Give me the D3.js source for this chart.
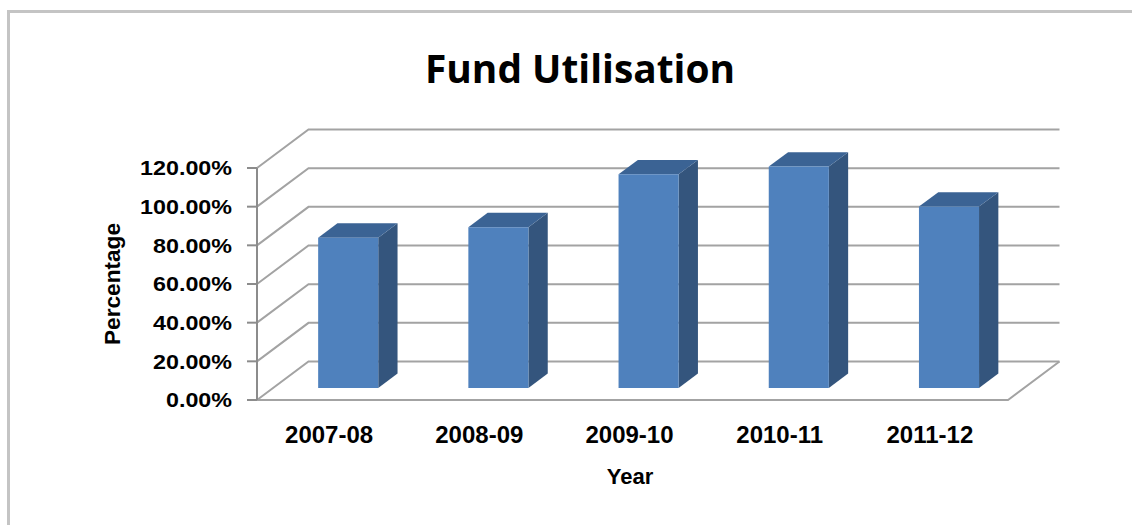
<!DOCTYPE html>
<html>
<head>
<meta charset="utf-8">
<script src="https://cdn.jsdelivr.net/npm/d3@7"></script>
<style>
  html, body { margin: 0; padding: 0; background: #ffffff; }
  svg { display: block; }
</style>
</head>
<body>
<svg id="chart" width="1132" height="525"></svg>
<script>
// ---- data ----
const categories = ["2007-08", "2008-09", "2009-10", "2010-11", "2011-12"];
const values = [0.777, 0.831, 1.105, 1.145, 0.938];
const yTicks = [0, 0.2, 0.4, 0.6, 0.8, 1.0, 1.2];
const titleText = "Fund Utilisation";
const xTitle = "Year";
const yTitle = "Percentage";

// ---- layout ----
const svg = d3.select("#chart");
const W = 1132, H = 525;
const X0 = 257, X1 = 1008;     // front floor edge
const DX = 51.5, DY = -38.5;   // full depth vector
const Z0 = 0.3125, Z1 = 0.6875; // bar depth range

const x = d3.scaleBand().domain(categories).range([X0, X1])
  .paddingInner(0.6).paddingOuter(0.3);
const y = d3.scaleLinear().domain([0, 1.2]).range([400, 168]);

const P = (px, v, z) => [px + z * DX, y(v) + z * DY];
const pt = p => p[0] + "," + p[1];

// frame
svg.append("path")
  .attr("d", `M8.5,${H} V11.5 H${W}`)
  .attr("fill", "none").attr("stroke", "#c4c4c4").attr("stroke-width", 3);

// title
svg.append("text")
  .attr("x", 425).attr("y", 83)
  .attr("textLength", 310).attr("lengthAdjust", "spacingAndGlyphs")
  .style("font-family", "'Open Sans', sans-serif")
  .style("font-weight", "bold").style("font-size", "40px")
  .attr("fill", "#000").text(titleText);

const grid = svg.append("g").attr("fill", "none")
  .attr("stroke", "#a3a3a3").attr("stroke-width", 2);

// gridlines: side wall diagonal + back wall horizontal
yTicks.forEach(v => {
  const a = P(X0, v, 0), b = P(X0, v, 1), c = P(X1, v, 1);
  grid.append("polyline").attr("points", [a, b, c].map(pt).join(" "));
});
// floor front edge and right edge
grid.append("polyline")
  .attr("points", [P(X0, 0, 0), P(X1, 0, 0), P(X1, 0, 1)].map(pt).join(" "));

// value axis line + ticks
const axis = svg.append("g").attr("stroke", "#8c8c8c").attr("stroke-width", 2);
axis.append("line").attr("x1", X0).attr("x2", X0)
  .attr("y1", y(0)).attr("y2", y(1.2));
yTicks.forEach(v => {
  axis.append("line").attr("x1", X0 - 10).attr("x2", X0)
    .attr("y1", y(v)).attr("y2", y(v));
});

// y tick labels
const fmt = d3.format(".2%");
svg.append("g").selectAll("text").data(yTicks).join("text")
  .attr("transform", d => `translate(232,${y(d) + 7.3}) scale(1.165,1)`)
  .attr("text-anchor", "end")
  .style("font-family", "'Liberation Sans', Arial, sans-serif")
  .style("font-weight", "bold").style("font-size", "20px")
  .attr("fill", "#000")
  .text(d => fmt(d));

// bars
const bars = svg.append("g");
categories.forEach((c, i) => {
  const v = values[i];
  const xl = x(c), xr = x(c) + x.bandwidth();
  const g = bars.append("g");
  // front face
  const f = [P(xl, 0, Z0), P(xr, 0, Z0), P(xr, v, Z0), P(xl, v, Z0)];
  // right side face
  const s = [P(xr, 0, Z0), P(xr, 0, Z1), P(xr, v, Z1), P(xr, v, Z0)];
  // top face
  const t = [P(xl, v, Z0), P(xr, v, Z0), P(xr, v, Z1), P(xl, v, Z1)];
  g.append("polygon").attr("points", s.map(pt).join(" ")).attr("fill", "#34557d");
  g.append("polygon").attr("points", t.map(pt).join(" ")).attr("fill", "#3b6394");
  g.append("polygon").attr("points", f.map(pt).join(" ")).attr("fill", "#4f81bd");
});

// x labels
svg.append("g").selectAll("text").data(categories).join("text")
  .attr("x", d => x(d) + x.bandwidth() / 2 - 3)
  .attr("y", 443)
  .attr("text-anchor", "middle")
  .style("font-family", "'Liberation Sans', Arial, sans-serif")
  .style("font-weight", "bold").style("font-size", "24px")
  .attr("fill", "#000")
  .text(d => d);

// axis titles
svg.append("text")
  .attr("x", 630).attr("y", 484).attr("text-anchor", "middle")
  .style("font-family", "'Liberation Sans', Arial, sans-serif")
  .style("font-weight", "bold").style("font-size", "22px")
  .attr("fill", "#000").text(xTitle);

svg.append("text")
  .attr("transform", "translate(120,284) rotate(-90)")
  .attr("text-anchor", "middle")
  .attr("textLength", 122).attr("lengthAdjust", "spacingAndGlyphs")
  .style("font-family", "'Liberation Sans', Arial, sans-serif")
  .style("font-weight", "bold").style("font-size", "22px")
  .attr("fill", "#000").text(yTitle);
</script>
</body>
</html>
